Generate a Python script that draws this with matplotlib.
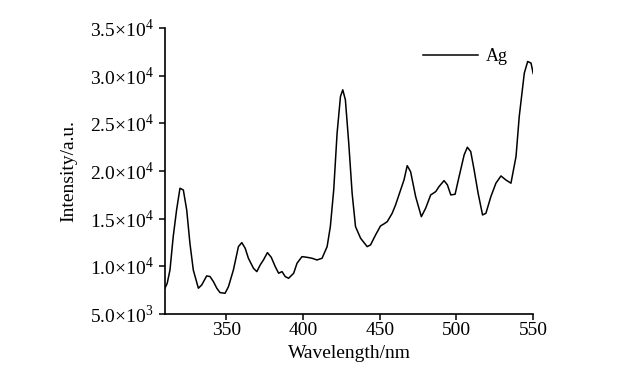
import matplotlib
matplotlib.use('Agg')
import matplotlib.pyplot as plt
import numpy as np

# Spectrum
wavelength = [310, 311.5, 313.3, 315.4, 317.6, 319.8, 322, 324.2, 326.3, 328.5,
              331.8, 334, 337.2, 339.4, 341.6, 343.8, 345.9, 349.2, 351.4, 354.6,
              357.9, 360.1, 362.3, 364.4, 367.7, 369.9, 372.1, 374.2, 376.8, 379.3,
              381.9, 384.1, 386.3, 388.4, 390.6, 393.9, 396.1, 399.3, 402.6, 405.9,
              409.1, 412.4, 415.7, 417.8, 420, 422.2, 424.4, 425.9, 427.6, 429.8,
              432, 434.2, 437.5, 441.8, 444, 447.3, 450.5, 452.7, 454.9, 458.1,
              460.3, 462.5, 465.8, 467.9, 470.1, 473.4, 477.1, 479.9, 483.2, 486.5,
              488.6, 491.9, 494.1, 496.3, 499.1, 501.7, 505, 507.1, 509.3, 511.5,
              514.1, 517, 519.2, 522.4, 525.7, 529, 532.2, 535.5, 538.8, 540.9,
              544.2, 546.4, 548.6, 550]
intensity = [7700, 8220, 9615, 13100, 15900, 18180, 18000, 15900, 12400, 9600,
             7700, 8040, 8990, 8920, 8390, 7700, 7240, 7170, 7860, 9600,
             12060, 12480, 11890, 10840, 9790, 9440, 10140, 10660, 11430, 10940,
             9960, 9270, 9440, 8920, 8740, 9270, 10320, 11010, 10940, 10840,
             10660, 10840, 12060, 14160, 18000, 23950, 27800, 28500, 27450, 22900,
             17660, 14160, 12940, 12060, 12240, 13290, 14230, 14440, 14680, 15560,
             16430, 17480, 19050, 20550, 19920, 17300, 15200, 16080, 17480, 17830,
             18350, 18980, 18530, 17480, 17550, 19400, 21680, 22480, 22020, 20100,
             17660, 15380, 15560, 17300, 18710, 19470, 19050, 18710, 21500, 25700,
             30250, 31470, 31300, 30200]

xticks = [350, 400, 450, 500, 550]
yticks = [5000, 10000, 15000, 20000, 25000, 30000, 35000]
ytick_labels = [r'5.0×10$^3$', r'1.0×10$^4$', r'1.5×10$^4$', r'2.0×10$^4$',
                r'2.5×10$^4$', r'3.0×10$^4$', r'3.5×10$^4$']

plt.rcParams['font.family'] = ['Liberation Serif', 'DejaVu Serif']
plt.rcParams['mathtext.fontset'] = 'custom'
plt.rcParams['mathtext.rm'] = 'Liberation Serif'
plt.rcParams['font.size'] = 14

fig = plt.figure(figsize=(6.2, 3.76), dpi=100)
ax = fig.add_axes([0.266, 0.165, 0.594, 0.761])

ax.plot(wavelength, intensity, color='k', linewidth=1.1, label='Ag')

ax.set_xlim(310, 550)
ax.set_ylim(5000, 35000)
ax.set_xticks(xticks)
ax.set_yticks(yticks)
ax.set_yticklabels(ytick_labels)
ax.spines['top'].set_visible(False)
ax.spines['right'].set_visible(False)
for s in ['left', 'bottom']:
    ax.spines[s].set_linewidth(1.2)
ax.tick_params(direction='out', length=4, width=1.1, pad=2)
ax.tick_params(axis='y', pad=4)

ax.set_xlabel('Wavelength/nm', labelpad=4)
ax.set_ylabel('Intensity/a.u.', labelpad=9)

ax.legend(loc='center left', bbox_to_anchor=(0.701, 0.899), frameon=False,
          borderpad=0, borderaxespad=0, handlelength=3.05, handletextpad=0.4,
          fontsize=13)

fig.savefig('out.png', dpi=100)
